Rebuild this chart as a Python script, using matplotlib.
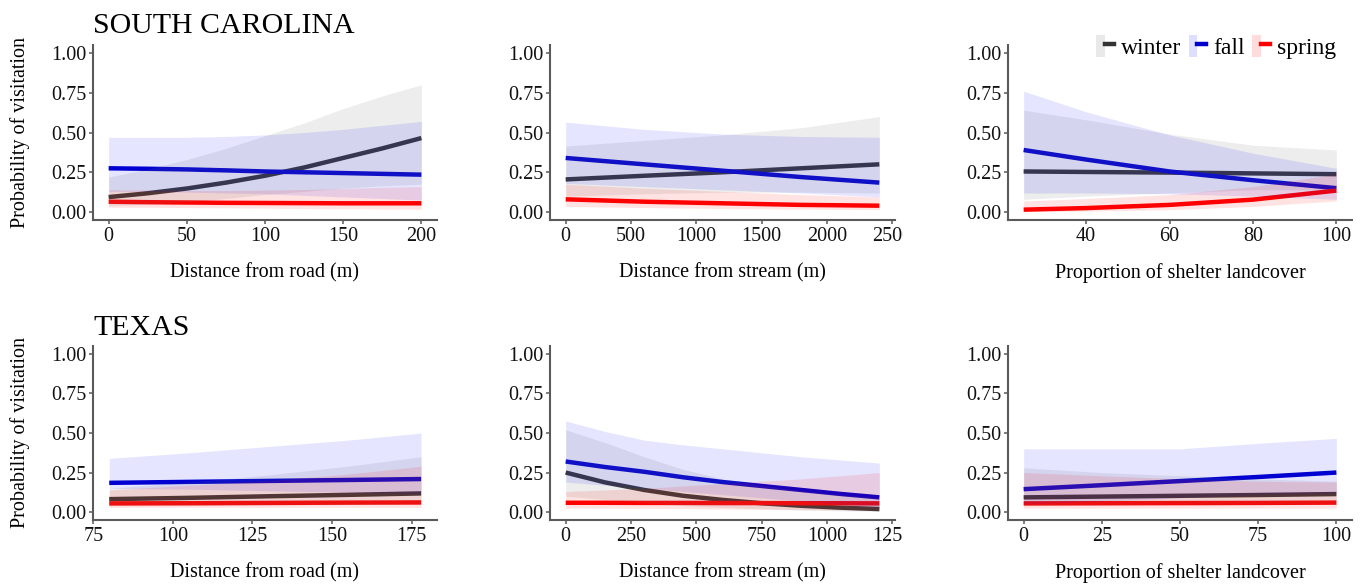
import matplotlib
matplotlib.use("Agg")
import matplotlib.pyplot as plt
from matplotlib.patches import Patch
from matplotlib.lines import Line2D
from matplotlib.legend_handler import HandlerTuple
from matplotlib.transforms import Bbox, TransformedBbox

plt.rcParams['font.family'] = ['Liberation Serif', 'DejaVu Serif']

# ---------------- data ----------------
seasons = ["winter", "fall", "spring"]
line_colors = {"winter": "#333333", "fall": "#0000cc", "spring": "#ff0000"}
fill_colors = {"winter": "#808080", "fall": "#0000ff", "spring": "#ff0000"}
fill_alpha = {"winter": 0.14, "fall": 0.10, "spring": 0.11}

state_titles = ["SOUTH CAROLINA", "TEXAS"]
x_labels = ["Distance from road (m)", "Distance from stream (m)", "Proportion of shelter landcover"]
y_label = "Probability of visitation"
y_ticks = [0.0, 0.25, 0.5, 0.75, 1.0]

# South Carolina - distance from road
sc_road_x = [0, 25, 50, 75, 100, 125, 150, 175, 200]
sc_road_winter = [0.094, 0.118, 0.148, 0.185, 0.228, 0.28, 0.34, 0.40, 0.465]
sc_road_winter_lo = [0.04, 0.05, 0.065, 0.085, 0.11, 0.13, 0.15, 0.165, 0.175]
sc_road_winter_hi = [0.22, 0.27, 0.33, 0.40, 0.48, 0.56, 0.65, 0.73, 0.80]
sc_road_fall = [0.275, 0.272, 0.268, 0.262, 0.255, 0.25, 0.245, 0.24, 0.235]
sc_road_fall_lo = [0.13, 0.13, 0.125, 0.12, 0.115, 0.105, 0.095, 0.085, 0.075]
sc_road_fall_hi = [0.47, 0.47, 0.47, 0.475, 0.485, 0.50, 0.52, 0.545, 0.57]
sc_road_spring = [0.065, 0.062, 0.06, 0.058, 0.057, 0.056, 0.055, 0.055, 0.055]
sc_road_spring_lo = [0.03, 0.03, 0.028, 0.026, 0.024, 0.022, 0.02, 0.019, 0.018]
sc_road_spring_hi = [0.14, 0.138, 0.135, 0.135, 0.138, 0.142, 0.148, 0.155, 0.16]
sc_road_ticks = [0, 50, 100, 150, 200]

# South Carolina - distance from stream
sc_stream_x = [0, 600, 1200, 1800, 2400]
sc_stream_winter = [0.205, 0.228, 0.25, 0.275, 0.30]
sc_stream_winter_lo = [0.10, 0.115, 0.125, 0.125, 0.12]
sc_stream_winter_hi = [0.415, 0.45, 0.485, 0.53, 0.60]
sc_stream_fall = [0.34, 0.30, 0.26, 0.22, 0.185]
sc_stream_fall_lo = [0.18, 0.16, 0.14, 0.12, 0.095]
sc_stream_fall_hi = [0.565, 0.52, 0.49, 0.475, 0.47]
sc_stream_spring = [0.08, 0.065, 0.055, 0.045, 0.04]
sc_stream_spring_lo = [0.035, 0.028, 0.022, 0.018, 0.015]
sc_stream_spring_hi = [0.175, 0.15, 0.13, 0.11, 0.095]
sc_stream_ticks = [0, 500, 1000, 1500, 2000, 2500]

# South Carolina - shelter landcover
sc_shelter_x = [25, 40, 60, 80, 100]
sc_shelter_winter = [0.255, 0.252, 0.248, 0.243, 0.238]
sc_shelter_winter_lo = [0.08, 0.10, 0.12, 0.14, 0.14]
sc_shelter_winter_hi = [0.64, 0.58, 0.49, 0.42, 0.39]
sc_shelter_fall = [0.39, 0.33, 0.255, 0.20, 0.15]
sc_shelter_fall_lo = [0.12, 0.12, 0.115, 0.10, 0.08]
sc_shelter_fall_hi = [0.76, 0.63, 0.485, 0.37, 0.275]
sc_shelter_spring = [0.015, 0.025, 0.045, 0.078, 0.135]
sc_shelter_spring_lo = [0.003, 0.006, 0.015, 0.035, 0.07]
sc_shelter_spring_hi = [0.07, 0.085, 0.11, 0.16, 0.24]
sc_shelter_ticks = [40, 60, 80, 100]

# Texas - distance from road
tx_road_x = [80, 105, 130, 155, 178]
tx_road_winter = [0.082, 0.09, 0.10, 0.109, 0.118]
tx_road_winter_lo = [0.04, 0.042, 0.045, 0.048, 0.05]
tx_road_winter_hi = [0.15, 0.19, 0.235, 0.29, 0.35]
tx_road_fall = [0.185, 0.191, 0.197, 0.203, 0.209]
tx_road_fall_lo = [0.15, 0.145, 0.135, 0.125, 0.115]
tx_road_fall_hi = [0.34, 0.375, 0.415, 0.455, 0.50]
tx_road_spring = [0.055, 0.056, 0.058, 0.06, 0.061]
tx_road_spring_lo = [0.03, 0.03, 0.03, 0.03, 0.03]
tx_road_spring_hi = [0.14, 0.17, 0.20, 0.24, 0.29]
tx_road_ticks = [75, 100, 125, 150, 175]

# Texas - distance from stream
tx_stream_x = [0, 150, 300, 450, 600, 750, 900, 1050, 1200]
tx_stream_winter = [0.25, 0.188, 0.14, 0.103, 0.077, 0.056, 0.04, 0.028, 0.019]
tx_stream_winter_lo = [0.10, 0.08, 0.06, 0.04, 0.03, 0.02, 0.012, 0.008, 0.005]
tx_stream_winter_hi = [0.52, 0.44, 0.35, 0.27, 0.21, 0.17, 0.135, 0.11, 0.09]
tx_stream_fall = [0.32, 0.285, 0.255, 0.22, 0.19, 0.165, 0.14, 0.115, 0.093]
tx_stream_fall_lo = [0.19, 0.17, 0.15, 0.13, 0.11, 0.09, 0.07, 0.05, 0.03]
tx_stream_fall_hi = [0.576, 0.51, 0.455, 0.425, 0.40, 0.375, 0.35, 0.33, 0.31]
tx_stream_spring = [0.059, 0.059, 0.058, 0.058, 0.057, 0.057, 0.056, 0.056, 0.055]
tx_stream_spring_lo = [0.025, 0.024, 0.023, 0.022, 0.02, 0.018, 0.016, 0.014, 0.012]
tx_stream_spring_hi = [0.13, 0.14, 0.15, 0.165, 0.18, 0.195, 0.21, 0.23, 0.25]
tx_stream_ticks = [0, 250, 500, 750, 1000, 1250]

# Texas - shelter landcover
tx_shelter_x = [0, 25, 50, 75, 100]
tx_shelter_winter = [0.093, 0.098, 0.103, 0.108, 0.114]
tx_shelter_winter_lo = [0.04, 0.045, 0.05, 0.05, 0.05]
tx_shelter_winter_hi = [0.28, 0.25, 0.23, 0.21, 0.195]
tx_shelter_fall = [0.145, 0.17, 0.196, 0.222, 0.25]
tx_shelter_fall_lo = [0.05, 0.07, 0.09, 0.11, 0.12]
tx_shelter_fall_hi = [0.40, 0.40, 0.40, 0.435, 0.466]
tx_shelter_spring = [0.055, 0.056, 0.057, 0.058, 0.06]
tx_shelter_spring_lo = [0.025, 0.025, 0.025, 0.025, 0.025]
tx_shelter_spring_hi = [0.25, 0.23, 0.21, 0.195, 0.19]
tx_shelter_ticks = [0, 25, 50, 75, 100]

panels = [
    [
        (sc_road_x, {"winter": (sc_road_winter, sc_road_winter_lo, sc_road_winter_hi),
                     "fall": (sc_road_fall, sc_road_fall_lo, sc_road_fall_hi),
                     "spring": (sc_road_spring, sc_road_spring_lo, sc_road_spring_hi)},
         sc_road_ticks, (-10, 210)),
        (sc_stream_x, {"winter": (sc_stream_winter, sc_stream_winter_lo, sc_stream_winter_hi),
                       "fall": (sc_stream_fall, sc_stream_fall_lo, sc_stream_fall_hi),
                       "spring": (sc_stream_spring, sc_stream_spring_lo, sc_stream_spring_hi)},
         sc_stream_ticks, (-120, 2520)),
        (sc_shelter_x, {"winter": (sc_shelter_winter, sc_shelter_winter_lo, sc_shelter_winter_hi),
                        "fall": (sc_shelter_fall, sc_shelter_fall_lo, sc_shelter_fall_hi),
                        "spring": (sc_shelter_spring, sc_shelter_spring_lo, sc_shelter_spring_hi)},
         sc_shelter_ticks, (21.25, 103.75)),
    ],
    [
        (tx_road_x, {"winter": (tx_road_winter, tx_road_winter_lo, tx_road_winter_hi),
                     "fall": (tx_road_fall, tx_road_fall_lo, tx_road_fall_hi),
                     "spring": (tx_road_spring, tx_road_spring_lo, tx_road_spring_hi)},
         tx_road_ticks, (74.9, 183)),
        (tx_stream_x, {"winter": (tx_stream_winter, tx_stream_winter_lo, tx_stream_winter_hi),
                       "fall": (tx_stream_fall, tx_stream_fall_lo, tx_stream_fall_hi),
                       "spring": (tx_stream_spring, tx_stream_spring_lo, tx_stream_spring_hi)},
         tx_stream_ticks, (-60, 1260)),
        (tx_shelter_x, {"winter": (tx_shelter_winter, tx_shelter_winter_lo, tx_shelter_winter_hi),
                        "fall": (tx_shelter_fall, tx_shelter_fall_lo, tx_shelter_fall_hi),
                        "spring": (tx_shelter_spring, tx_shelter_spring_lo, tx_shelter_spring_hi)},
         tx_shelter_ticks, (-5, 105)),
    ],
]

# ---------------- layout ----------------
W, H = 1368, 585
fig = plt.figure(figsize=(W / 100, H / 100), dpi=100)

col_px = [(93, 437), (550, 895), (1008, 1352)]
row_px = [(45, 220), (346, 520)]
title_baseline_px = [33, 335]
xlabel_center_px = [273, 573]

spine_color = "#5a5a5a"
tick_fs = 14.5
label_fs = 14.5

for r, (top, bot) in enumerate(row_px):
    for c, (left, right) in enumerate(col_px):
        ax = fig.add_axes([left / W, 1 - bot / H, (right - left) / W, (bot - top) / H])
        x, series, ticks, xlim = panels[r][c]
        for s in seasons:
            y, lo, hi = series[s]
            ax.plot(x, y, color=line_colors[s], lw=3.2, zorder=2, solid_capstyle="butt")
        for s in seasons:
            y, lo, hi = series[s]
            ax.fill_between(x, lo, hi, color=fill_colors[s], alpha=fill_alpha[s], lw=0, zorder=3)
        ax.set_xlim(*xlim)
        ax.set_ylim(-0.05, 1.05)
        ax.set_xticks(ticks)
        ax.set_xticklabels([str(t) for t in ticks])
        ax.set_yticks(y_ticks)
        ax.set_yticklabels([f"{v:.2f}" for v in y_ticks])
        for sp in ["top", "right"]:
            ax.spines[sp].set_visible(False)
        for sp in ["left", "bottom"]:
            ax.spines[sp].set_color(spine_color)
            ax.spines[sp].set_linewidth(1.5)
        ax.tick_params(axis="both", direction="out", length=3, width=1.1, color=spine_color,
                       labelsize=tick_fs, labelcolor="#111111", pad=2)
        if c == 1:
            clipbox = TransformedBbox(Bbox([[0, 0], [903 / W, 1]]), fig.transFigure)
            for tk in ax.xaxis.get_major_ticks():
                tk.label1.set_clip_box(clipbox)
                tk.label1.set_clip_on(True)
        fig.text((left + right) / 2 / W, 1 - xlabel_center_px[r] / H, x_labels[c],
                 ha="center", va="center", fontsize=label_fs)
        if c == 0:
            fig.text(20 / W, 1 - (top + bot) / 2 / H, y_label, rotation=90,
                     ha="center", va="center", fontsize=label_fs)
            fig.text(left / W, 1 - title_baseline_px[r] / H, state_titles[r],
                     ha="left", va="baseline", fontsize=21.5)
        if r == 0 and c == 2:
            handles = [(Patch(facecolor=fill_colors[s], alpha=fill_alpha[s] + 0.03, lw=0),
                        Line2D([], [], color=line_colors[s], lw=3.2)) for s in seasons]
            ax.legend(handles, seasons, handler_map={tuple: HandlerTuple(ndivide=None, pad=0)},
                      ncol=3, loc="center right", bbox_to_anchor=(1336 / W, 1 - 47 / H),
                      bbox_transform=fig.transFigure, frameon=False, fontsize=17,
                      handlelength=0.75, handleheight=1.1, handletextpad=0.3,
                      columnspacing=0.3, borderpad=0, borderaxespad=0)

fig.savefig("out.png", dpi=100)
